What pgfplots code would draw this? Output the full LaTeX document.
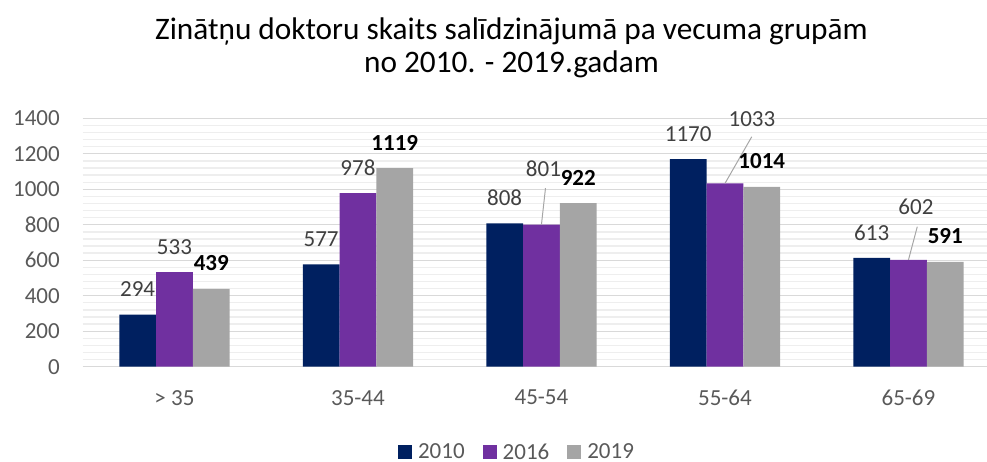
\documentclass[border=0pt]{standalone}
\usepackage{fontspec}
\setmainfont{Carlito}
\usepackage{pgfplots}
\pgfplotsset{compat=1.18}
\definecolor{cNavy}{HTML}{002060}
\definecolor{cPurple}{HTML}{7030A0}
\definecolor{cGray}{HTML}{A5A5A5}
\definecolor{cTick}{HTML}{595959}
\definecolor{cLab}{HTML}{404040}
\definecolor{cMaj}{HTML}{D9D9D9}
\definecolor{cMin}{HTML}{EEEEEE}
\definecolor{cLead}{HTML}{A6A6A6}
\pgfplotsset{
  barlab/.style={
    nodes near coords,
    point meta=y,
    visualization depends on={\thisrow{dx} \as \dx},
    visualization depends on={\thisrow{dy} \as \dy},
    every node near coord/.style={anchor=south, inner sep=0pt,
      font=\fontsize{23}{26}\selectfont, xshift=\dx pt, yshift=17.5pt+\dy pt},
  }
}
\begin{document}
\begin{tikzpicture}
\useasboundingbox (0pt,0pt) rectangle (987pt,461pt);
\node[anchor=base, font=\fontsize{31.3}{34}\selectfont] at (511.5pt,421.7pt) {Zinātņu doktoru skaits salīdzinājumā pa vecuma grupām};
\node[anchor=base, font=\fontsize{31.3}{34}\selectfont] at (511.5pt,388.3pt) {no 2010. - 2019.gadam};
\begin{axis}[
  at={(82.7pt,94.3pt)}, anchor=south west,
  scale only axis, width=904.3pt, height=248.4pt,
  xmin=-0.5, xmax=4.428, ymin=0, ymax=1400,
  clip=false,
  axis line style={draw=none},
  xtick={0,1,2,3,4},
  xticklabels={> 35, 35-44, 45-54, 55-64, 65-69},
  ytick={0,200,...,1400},
  minor y tick num=4,
  ymajorgrids, yminorgrids,
  major grid style={cMaj, line width=1.3pt},
  minor grid style={cMin, line width=1.3pt},
  major tick length=0pt, minor tick length=0pt,
  tick style={draw=none},
  /pgf/number format/assume math mode=true,
  /pgf/number format/1000 sep={},
  scaled y ticks=false,
  ticklabel style={font=\fontsize{23}{26}\selectfont, text=cTick, inner sep=0pt},
  yticklabel style={anchor=east, xshift=-22.7pt},
  xticklabel style={anchor=north, yshift=-23.3pt},
  legend columns=3,
  legend style={at={(433.3pt,-85.3pt)}, anchor=center, draw=none, fill=none,
    font=\fontsize{23}{26}\selectfont, text=cTick,
    nodes={inner sep=0pt},
    /tikz/every odd column/.append style={column sep=6pt},
    /tikz/every even column/.append style={column sep=18pt}},
  legend cell align=left,
]
\addplot[ybar, bar width=36.8pt, bar shift=-36.8pt, fill=cNavy, draw=none,
  barlab, nodes near coords style={text=cLab},
  legend image code/.code={\fill[cNavy] (0pt,-7pt) rectangle (14pt,7pt);}]
  table {
  x y dx dy
  0 294 -36.8 0
  1 577 -36.8 0
  2 808 -36.8 0
  3 1170 -36.8 0
  4 613 -36.8 0
  };
\addlegendentry{2010}
\addplot[ybar, bar width=36.8pt, bar shift=0pt, fill=cPurple, draw=none,
  barlab, nodes near coords style={text=cLab},
  legend image code/.code={\fill[cPurple] (0pt,-7pt) rectangle (14pt,7pt);}]
  table {
  x y dx dy
  0 533 0 0
  1 978 0 0
  2 801 2 30.5
  3 1033 27 39.2
  4 602 7.5 27.5
  };
\addlegendentry{2016}
\addplot[ybar, bar width=36.8pt, bar shift=36.8pt, fill=cGray, draw=none,
  barlab, nodes near coords style={text=black, font=\fontsize{23}{26}\selectfont\bfseries},
  legend image code/.code={\fill[cGray] (0pt,-7pt) rectangle (14pt,7pt);}]
  table {
  x y dx dy
  0 439 36.8 0
  1 1119 36.8 0
  2 922 36.8 0
  3 1014 36.8 0
  4 591 36.8 0
  };
\addlegendentry{2019}
\addplot[sharp plot, no marks, cLead, line width=1pt, forget plot] coordinates {(2.0,801) (2.022,1007)};
\addplot[sharp plot, no marks, cLead, line width=1pt, forget plot] coordinates {(3.0,1033) (3.146,1296)};
\addplot[sharp plot, no marks, cLead, line width=1pt, forget plot] coordinates {(4.0,602) (4.048,789)};
\end{axis}
\end{tikzpicture}
\end{document}
